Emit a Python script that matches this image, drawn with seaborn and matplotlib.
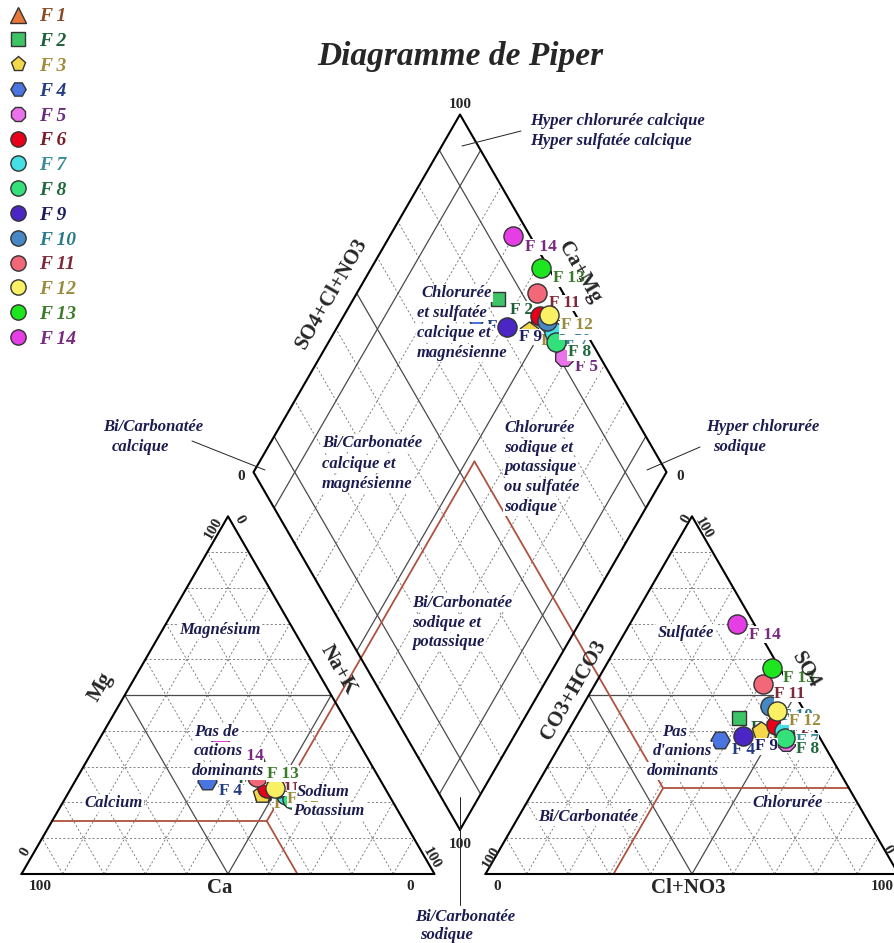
import numpy as np
import pandas as pd
import seaborn as sns
import matplotlib.pyplot as plt
from matplotlib.lines import Line2D

# samples and ionic balance (% meq)
samples = ["F 1", "F 2", "F 3", "F 4", "F 5", "F 6", "F 7",
           "F 8", "F 9", "F 10", "F 11", "F 12", "F 13", "F 14"]
ca = [30, 36, 30.5, 42, 21, 28.5, 25, 24, 29, 26, 29.5, 26.5, 28, 34]
mg = [23, 29, 22.5, 26, 20, 24, 22, 21, 30, 24, 27, 24, 31, 36]
na_k = [47, 35, 47, 32, 59, 47.5, 53, 55, 41, 50, 43.5, 49.5, 41, 30]
hco3 = [9, 16.7, 13.4, 24.4, 8.8, 8.9, 7.7, 8.6, 18.3, 7.7, 6.3, 6.5, 1.9, 4.1]
so4 = [42, 43.6, 40, 37.5, 37, 41.7, 40, 38, 38.6, 47, 53.2, 45.6, 57.7, 69.8]
cl_no3 = [49, 39.7, 46.6, 38.1, 54.2, 49.4, 52.3, 53.4, 43.1, 45.3, 40.5, 47.9, 40.4, 26.1]

# brown facies boundaries
brown_na = 0.52
brown_mg = 0.148
brown_co3 = 0.45
brown_so4 = 0.24

face_colors = ["#e8783a", "#3cc466", "#f5d84a", "#4a74e0", "#ec72ec", "#e8001a", "#45e0e6",
               "#33e07a", "#4a26c4", "#4588c4", "#f26878", "#faf064", "#1ee61e", "#e43ee4"]
text_colors = ["#8a4a22", "#1d5e36", "#a08a3a", "#243c82", "#6e2a7e", "#7a1a24", "#3a8a98",
               "#1e6a3c", "#1c1c5c", "#2a7a8c", "#7e2838", "#9a8a3a", "#3a7a28", "#7a2a7e"]
shapes = ["^", "s", "p", "H", "8", "o", "o", "o", "o", "o", "o", "o", "o", "o"]
sizes = [120, 110, 190, 190, 190, 190, 190, 190, 190, 190, 190, 190, 190, 190]

GAP = 51 / 413
H = np.sqrt(3) / 2
NAVY = "#1c1c50"
SERIF = ["Liberation Serif", "DejaVu Serif"]


def cation_xy(na, m):
    return na + 0.5 * m, H * m


def anion_xy(cl, s):
    return 1 + GAP + cl + 0.5 * s, H * s


def diamond_xy(na, co3):
    return 1 + GAP / 2 + 0.5 * (na - co3), H * GAP + H * (2 - na - co3)


def px(x, y):
    # reference pixel position -> data units (used for text placement only)
    return (x - 21.5) / 413, (874 - y) / 413


sns.set_style("white")
plt.rcParams["font.family"] = SERIF

fig = plt.figure(figsize=(8.94, 9.43), dpi=100)
ax = fig.add_axes([0, 0, 1, 1])

# ---- grid ----
dash = dict(color="#707070", lw=0.6, ls=(0, (2.5, 2.5)), zorder=1)
solid = dict(color="#4a4a4a", lw=0.9, zorder=2)
for i in range(1, 10):
    v = i / 10
    for f in (cation_xy, anion_xy):
        for a, b in [((0, v), (1 - v, v)), ((v, 0), (v, 1 - v)), ((1 - v, 0), (0, 1 - v))]:
            p, q = f(*a), f(*b)
            kw = solid if i == 5 else dash
            ax.plot([p[0], q[0]], [p[1], q[1]], **kw)
    for a, b in [((v, 1), (v, 0)), ((1, v), (0, v))]:
        p, q = diamond_xy(*a), diamond_xy(*b)
        kw = solid if i in (1, 5, 9) else dash
        ax.plot([p[0], q[0]], [p[1], q[1]], **kw)

# outlines
edge = dict(color="black", lw=1.5, zorder=4)
for f in (cation_xy, anion_xy):
    pts = [f(0, 0), f(1, 0), f(0, 1), f(0, 0)]
    ax.plot([p[0] for p in pts], [p[1] for p in pts], **edge)
pts = [diamond_xy(1, 1), diamond_xy(0, 1), diamond_xy(0, 0), diamond_xy(1, 0), diamond_xy(1, 1)]
ax.plot([p[0] for p in pts], [p[1] for p in pts], **edge)

# brown boundaries
brown = dict(color="#b0523e", lw=1.3, zorder=3)
apex = diamond_xy(brown_na, brown_co3)
c0 = cation_xy(brown_na, brown_mg)
a0 = anion_xy(1 - brown_co3 - brown_so4, brown_so4)
for p, q in [(cation_xy(0, brown_mg), c0), (c0, cation_xy(brown_na + brown_mg, 0)), (c0, apex),
             (a0, anion_xy(1 - brown_so4, brown_so4)),
             (a0, anion_xy(1 - brown_co3 - brown_so4, 0)), (a0, apex)]:
    ax.plot([p[0], q[0]], [p[1], q[1]], **brown)

# ---- samples ----
rows = []
for i, name in enumerate(samples):
    tc = ca[i] + mg[i] + na_k[i]
    ta = hco3[i] + so4[i] + cl_no3[i]
    n, m = na_k[i] / tc, mg[i] / tc
    co3, s, c = hco3[i] / ta, so4[i] / ta, cl_no3[i] / ta
    for x, y in (cation_xy(n, m), anion_xy(c, s), diamond_xy(n, co3)):
        rows.append({"sample": name, "x": x, "y": y})
df = pd.DataFrame(rows)

for i, name in enumerate(samples):
    sub = df[df["sample"] == name]
    sns.scatterplot(data=sub, x="x", y="y", marker=shapes[i], color=face_colors[i],
                    s=sizes[i], edgecolor="#333333", linewidth=1.0, zorder=10 + 2 * i,
                    legend=False, ax=ax)
    for _, r in sub.iterrows():
        ax.annotate(name, (r["x"], r["y"]), xytext=(8.5, -7.5), textcoords="offset points",
                    ha="left", va="center", fontsize=12.5, fontweight="bold",
                    color=text_colors[i], zorder=11 + 2 * i,
                    bbox=dict(boxstyle="square,pad=0.02", fc="white", ec="none"))

# ---- texts ----
num = dict(fontsize=11, fontweight="bold", ha="center", va="center", zorder=60)
for txt, (x, y), rot in [("100", (40, 887), 0), ("0", (410, 887), 0), ("0", (25, 852), 60),
                         ("100", (432, 858), -60), ("100", (213, 528), 60), ("0", (239, 520), -60),
                         ("0", (497, 887), 0), ("100", (882, 887), 0), ("100", (491, 857), 60),
                         ("0", (887, 850), -60), ("0", (686, 519), 60), ("100", (704, 528), -60),
                         ("100", (460, 104), 0), ("0", (241, 477), 0), ("0", (680, 477), 0),
                         ("100", (460, 845), 0)]:
    ax.text(*px(x, y), txt, rotation=rot, **num)

axl = dict(fontsize=15, fontweight="bold", ha="center", va="center", zorder=60,
           rotation_mode="anchor")
for txt, (x, y), rot in [("Ca", (220, 888), 0), ("Cl+NO3", (688, 888), 0), ("Mg", (101, 687), 60),
                         ("Na+K", (338, 670), -60), ("CO3+HCO3", (574, 690), 60),
                         ("SO4", (806, 670), -60), ("SO4+Cl+NO3", (332, 293), 60),
                         ("Ca+Mg", (580, 272), -60)]:
    ax.text(*px(x, y), txt, rotation=rot, **axl)

# facies names, one white-backed line each
reg = dict(fontsize=12, fontweight="bold", fontstyle="italic", color=NAVY, va="center",
           zorder=60, bbox=dict(boxstyle="square,pad=0.08", fc="white", ec="none"))
for txt, x, y, ha in [
        ("Hyper chlorurée calcique", 530, 121, "left"), ("Hyper sulfatée calcique", 530, 141, "left"),
        ("Chlorurée", 421, 293, "left"), ("et sulfatée", 417, 313, "left"),
        ("calcique et", 417, 333, "left"), ("magnésienne", 417, 353, "left"),
        ("Bi/Carbonatée", 322, 443, "left"), ("calcique et", 322, 464, "left"),
        ("magnésienne", 322, 484, "left"),
        ("Chlorurée", 504, 428, "left"), ("sodique et", 504, 448, "left"),
        ("potassique", 504, 467, "left"), ("ou sulfatée", 504, 487, "left"),
        ("sodique", 504, 507, "left"),
        ("Bi/Carbonatée", 412, 603, "left"), ("sodique et", 412, 623, "left"),
        ("potassique", 412, 642, "left"),
        ("Bi/Carbonatée", 103, 427, "left"), ("calcique", 112, 447, "left"),
        ("Hyper chlorurée", 706, 427, "left"), ("sodique", 713, 447, "left"),
        ("Bi/Carbonatée", 415, 917, "left"), ("sodique", 420, 935, "left"),
        ("Magnésium", 220, 630, "center"),
        ("Pas de", 194, 732, "left"), ("cations", 194, 751, "left"), ("dominants", 192, 771, "left"),
        ("Calcium", 114, 803, "center"),
        ("Sodium", 297, 792, "left"), ("Potassium", 293, 811, "left"),
        ("Sulfatée", 686, 633, "center"),
        ("Pas", 675, 732, "center"), ("d'anions", 682, 751, "center"),
        ("dominants", 683, 771, "center"),
        ("Bi/Carbonatée", 588, 817, "center"), ("Chlorurée", 788, 803, "center")]:
    ax.text(*px(x, y), txt, ha=ha, **reg)

# pointer lines
for (x0, y0), (x1, y1) in [((462, 146), (521, 131)), ((192, 441), (265, 470)),
                           ((700, 447), (647, 470)), ((460, 797), (460, 905))]:
    p, q = px(x0, y0), px(x1, y1)
    ax.plot([p[0], q[0]], [p[1], q[1]], color="#222222", lw=0.7, zorder=5)

ax.text(*px(460, 57), "Diagramme de Piper", fontsize=24, fontweight="bold",
        fontstyle="italic", ha="center", va="center")

# legend
handles = [Line2D([], [], ls="none", marker=shapes[i], markerfacecolor=face_colors[i],
                  markeredgecolor="#333333", markersize=11 if shapes[i] != "s" else 9.5)
           for i in range(len(samples))]
leg = fig.legend(handles, samples, loc="upper left", bbox_to_anchor=(0.0, 1.0),
                 frameon=False, borderaxespad=0.1, borderpad=0.3, handlelength=1.0,
                 handletextpad=0.6, labelspacing=0.37,
                 prop=dict(family=SERIF, weight="bold", style="italic", size=14))
for t, c in zip(leg.get_texts(), text_colors):
    t.set_color(c)

ax.set_xlim(-21.5 / 413, (894 - 21.5) / 413)
ax.set_ylim((874 - 943) / 413, 874 / 413)
ax.set_axis_off()

fig.savefig("out.png", dpi=100)
